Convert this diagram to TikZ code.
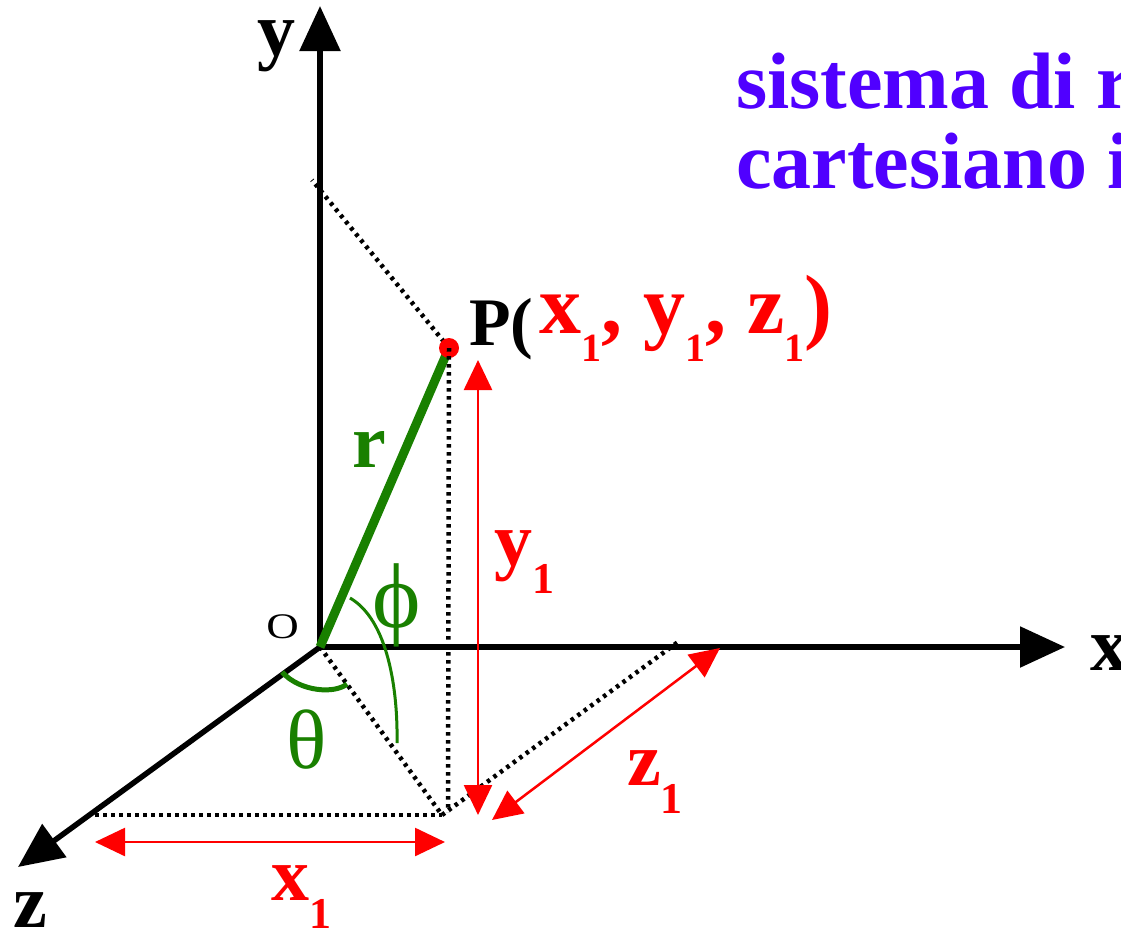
\documentclass[tikz,border=0pt]{standalone}
\usepackage{fontspec}
\setmainfont{Liberation Serif}
\usetikzlibrary{arrows.meta}
\definecolor{verde}{RGB}{25,128,0}
\definecolor{viola}{RGB}{80,0,255}
\newcommand{\uno}[1][44]{\raisebox{-28pt}{\fontsize{#1}{#1}\selectfont 1}}
\tikzset{
  asse/.style={line width=5.5pt,-{Triangle[length=45pt,width=40pt]}},
  proiez/.style={line width=4.5pt,dash pattern=on 3.5pt off 4.5pt},
  quota/.style={red,line width=2.5pt,
    {Triangle[length=30pt,width=28pt]}-{Triangle[length=30pt,width=28pt]}},
  etich/.style={inner sep=0pt,anchor=base west,
    font=\fontsize{76}{76}\selectfont\bfseries},
  rosso/.style={etich,red},
  greco/.style={inner sep=0pt,verde},
  punto/.style={circle,fill=red,minimum size=20pt,inner sep=0pt},
}

\begin{document}
\begin{tikzpicture}[x=1pt,y=-1pt]
  \useasboundingbox (0,0) rectangle (1121,929);
  % punti
  \coordinate (O) at (320,647);
  \coordinate (ytip) at (320,6);
  \coordinate (xtip) at (1065,647);
  \coordinate (ztip) at (18,867);
  \coordinate (F) at (442,815);
  \coordinate (Pv) at (448,812);
  \coordinate (zpt) at (95,815);
  \coordinate (xpt) at (678,642);
  \coordinate (ypt) at (312,180);
  \coordinate (P) at (449,348);
  % assi
  \draw[asse] (O) -- (ytip);
  \draw[asse] (O) -- (xtip);
  \draw[asse] (O) -- (ztip);
  % proiezioni
  \draw[proiez] (P) -- (ypt);
  \draw[proiez] (O) -- (F);
  \draw[proiez] (zpt) -- (F);
  \draw[proiez] (F) -- (xpt);
  % raggio e angoli
  \draw[verde,line width=9pt] (O) -- (P);
  \node[punto] (Pdot) at (P) {};
  \draw[proiez] (P) -- (Pv);
  \draw[verde,line width=3pt] (350,598) .. controls (388,620) and (398,690) .. (397,743);
  \draw[verde,line width=5pt] (282,672) .. controls (300,692) and (335,694) .. (347,684);
  % quote
  \coordinate (x1a) at (95,842);
  \coordinate (x1b) at (445,842);
  \coordinate (y1a) at (478,360);
  \coordinate (y1b) at (478,815);
  \coordinate (z1a) at (492,820);
  \coordinate (z1b) at (720,648);
  \draw[quota] (x1a) -- (x1b);
  \draw[quota] (y1a) -- (y1b);
  \draw[quota] (z1a) -- (z1b);
  % etichette
  \node[etich] (ylab) at (257,55) {y};
  \node[etich] (xlab) at (1090,670) {x};
  \node[etich] (zlab) at (13,927) {z};
  \node[inner sep=0pt,anchor=base west,xscale=1.25,
    font=\fontsize{36}{36}\selectfont] (olab) at (266,638) {O};
  \node[etich,verde] (rlab) at (352,467) {r};
  \node[greco,font=\fontsize{92}{92}\selectfont] (philab) at (397,605) {ϕ};
  \node[greco,font=\fontsize{84}{84}\selectfont] (thetalab) at (307,740) {θ};
  \node[rosso] (y1lab) at (494,565) {y\uno};
  \node[rosso] (z1lab) at (627,785) {z\uno};
  \node[rosso] (x1lab) at (271,900) {x\uno};
  \node[etich,font=\fontsize{68}{68}\selectfont\bfseries] (Plab) at (469,345)
    {P(\raisebox{12pt}{\color{red}\fontsize{84}{84}\selectfont
     \kern6pt x\uno[40], y\uno[40], z\uno[40])}};
  \node[etich,viola,align=left,font=\fontsize{80}{80}\selectfont\bfseries]
    (titolo) at (736,188) {sistema di r\\cartesiano i};
\end{tikzpicture}
\end{document}
